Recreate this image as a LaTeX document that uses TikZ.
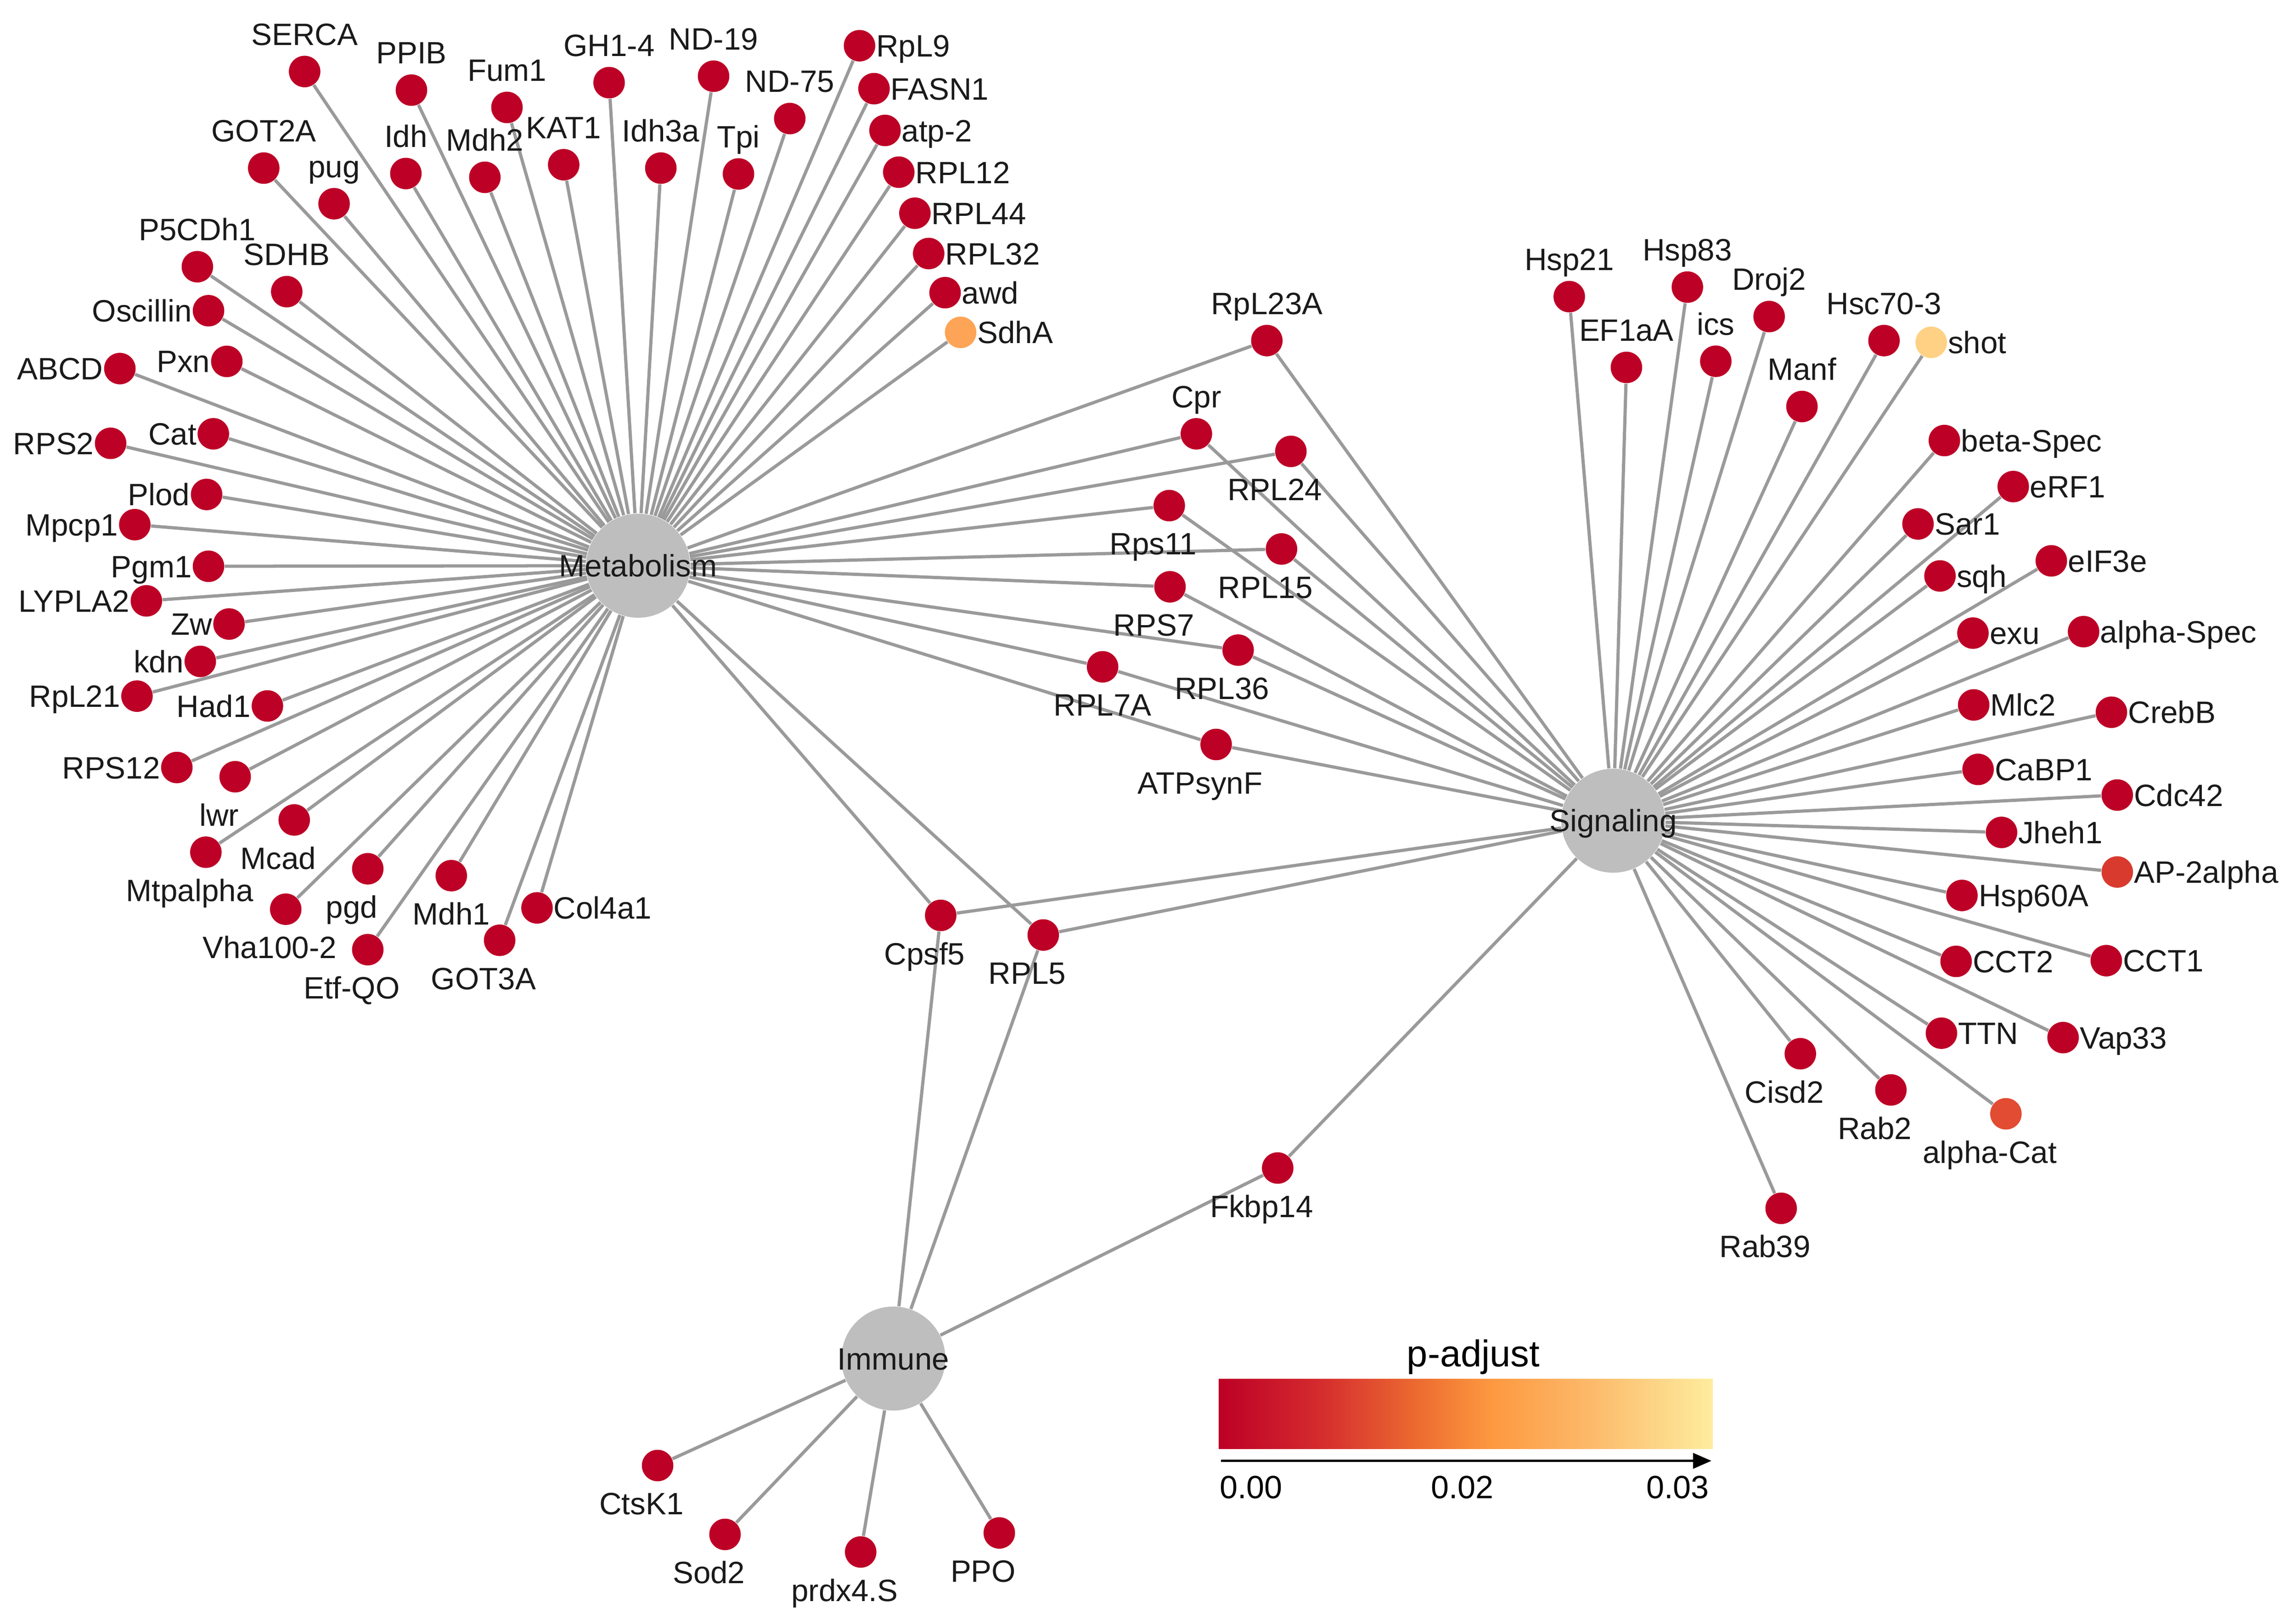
\documentclass[tikz,border=0pt]{standalone}
\usepackage{fontspec}
\setmainfont{Liberation Sans}
\usetikzlibrary{arrows.meta}
\pgfdeclarelayer{bg}
\pgfsetlayers{bg,main}
\definecolor{nred}{HTML}{BD0026}
\definecolor{norange}{HTML}{FDA456}
\definecolor{nyellow}{HTML}{FED184}
\definecolor{nredb}{HTML}{D83B2E}
\definecolor{nredc}{HTML}{E24C32}
\definecolor{hubgray}{HTML}{BEBEBE}
\definecolor{edgegray}{HTML}{9A9A9A}
\definecolor{txt}{HTML}{1A1A1A}
\definecolor{gza}{HTML}{BD0026}
\definecolor{gzb}{HTML}{D42A2E}
\definecolor{gzc}{HTML}{EC6A30}
\definecolor{gzd}{HTML}{FD9840}
\definecolor{gze}{HTML}{FCB96A}
\definecolor{gzf}{HTML}{FEEC9E}
\pgfdeclarehorizontalshading{padj}{100bp}{color(0bp)=(gza); color(25bp)=(gza); color(35bp)=(gzb); color(45bp)=(gzc); color(52.5bp)=(gzd); color(62.5bp)=(gze); color(75bp)=(gzf); color(100bp)=(gzf)}
\tikzset{
  leaf/.style={circle, draw=none, inner sep=0pt, minimum size=0.43cm},
  hub/.style={circle, draw=none, fill=hubgray, inner sep=0pt, minimum size=1.42cm},
  lab/.style={inner sep=0pt, text=txt, font=\fontsize{12pt}{14pt}\selectfont, text height=8.6pt, text depth=0pt},
  edge/.style={draw=edgegray, line width=1.25pt},
}
% label right / left / above / below-left / below-centre
\newcommand\gR[5]{\node[leaf,fill=#4] (#1) at (#2,#3) {}; \node[lab,anchor=west] (#1l) at (#1.east) {#5};}
\newcommand\gL[5]{\node[leaf,fill=#4] (#1) at (#2,#3) {}; \node[lab,anchor=east] (#1l) at (#1.west) {#5};}
\newcommand\gA[5]{\node[leaf,fill=#4] (#1) at (#2,#3) {}; \node[lab] (#1l) at ([yshift=0.51cm]#1.center) {#5};}
\newcommand\gB[5]{\node[leaf,fill=#4] (#1) at (#2,#3) {}; \node[lab] (#1l) at ([xshift=-0.22cm,yshift=-0.52cm]#1.center) {#5};}
\newcommand\gC[5]{\node[leaf,fill=#4] (#1) at (#2,#3) {}; \node[lab] (#1l) at ([yshift=-0.52cm]#1.center) {#5};}
\begin{document}
\begin{tikzpicture}[x=0.02cm, y=-0.02cm]
\useasboundingbox (0,0) rectangle (1567,1104.7);

% hubs
\node[hub] (meta) at (435.5,386) {};
\node[hub] (sig) at (1101,560) {};
\node[hub] (imm) at (609.7,927) {};

% Metabolism leaves
\gA{SERCA}{207.9}{48.8}{nred}{SERCA}
\gA{PPIB}{280.8}{61.5}{nred}{PPIB}
\gA{Fum}{346}{73.3}{nred}{Fum1}
\gA{GH}{415.7}{56.4}{nred}{GH1-4}
\gA{NDa}{487}{52}{nred}{ND-19}
\gR{RpLnine}{586.6}{31.2}{nred}{RpL9}
\gA{NDb}{539}{80.9}{nred}{ND-75}
\gR{FASN}{596.5}{60.5}{nred}{FASN1}
\gR{atp}{604}{89}{nred}{atp-2}
\gR{RPLa}{613.4}{117.5}{nred}{RPL12}
\gR{RPLb}{624.4}{145.5}{nred}{RPL44}
\gR{RPLc}{633.8}{173}{nred}{RPL32}
\gR{awd}{645}{199.7}{nred}{awd}
\gR{SdhA}{655.6}{226.8}{norange}{SdhA}
\gA{GOTa}{180}{114.7}{nred}{GOT2A}
\gA{pug}{228}{139}{nred}{pug}
\gA{Idh}{277}{118.4}{nred}{Idh}
\gA{Mdhb}{330.9}{121}{nred}{Mdh2}
\gA{KAT}{384.7}{112.4}{nred}{KAT1}
\gA{Idhc}{451}{114.7}{nred}{Idh3a}
\gA{Tpi}{504}{118.7}{nred}{Tpi}
\gA{PfC}{134.7}{182}{nred}{P5CDh1}
\gA{SDHB}{195.7}{199}{nred}{SDHB}
\gL{Osc}{142.3}{212}{nred}{Oscillin}
\gL{ABCD}{81.8}{251.5}{nred}{ABCD}
\gL{Pxn}{154.8}{246.6}{nred}{Pxn}
\gL{RPSb}{75.5}{302.5}{nred}{RPS2}
\gL{Cat}{145.6}{296}{nred}{Cat}
\gL{Plod}{141}{337.4}{nred}{Plod}
\gL{Mpcp}{92}{358}{nred}{Mpcp1}
\gL{Pgm}{142.3}{386.4}{nred}{Pgm1}
\gL{LYP}{99.9}{410}{nred}{LYPLA2}
\gL{Zw}{156.3}{425.8}{nred}{Zw}
\gL{kdn}{136.7}{451.3}{nred}{kdn}
\gL{RpLtw}{93.5}{475}{nred}{RpL21}
\gL{Had}{182.5}{481.7}{nred}{Had1}
\gL{RPSc}{120.7}{523.7}{nred}{RPS12}
\gB{lwr}{160.5}{530}{nred}{lwr}
\gB{Mcad}{200.8}{559.5}{nred}{Mcad}
\gB{Mtp}{140.5}{581.5}{nred}{Mtpalpha}
\gB{Vha}{195}{620.4}{nred}{Vha100-2}
\gB{pgd}{251}{592.8}{nred}{pgd}
\gB{Etf}{251}{648}{nred}{Etf-QO}
\gC{Mdha}{308}{597.5}{nred}{Mdh1}
\gB{GOTb}{341}{641.6}{nred}{GOT3A}
\gR{Col}{366.5}{619.5}{nred}{Col4a1}

% shared Metabolism / Signaling
\gA{RpLtt}{864.6}{232.4}{nred}{RpL23A}
\gA{Cpr}{816.5}{296}{nred}{Cpr}
\gB{RPLd}{881}{308}{nred}{RPL24}
\gB{Rpsa}{798}{345}{nred}{Rps11}
\gB{RPLe}{874.6}{374.6}{nred}{RPL15}
\gB{RPSd}{798.5}{400.4}{nred}{RPS7}
\gB{RPLf}{845}{443.6}{nred}{RPL36}
\gC{RPLg}{752.5}{455}{nred}{RPL7A}
\gB{ATP}{830}{508}{nred}{ATPsynF}
\gB{Cpsf}{642}{624.6}{nred}{Cpsf5}
\gB{RPLh}{712}{638}{nred}{RPL5}
\gB{Fkbp}{872}{797}{nred}{Fkbp14}

% Signaling leaves
\gA{Hspa}{1071}{202.4}{nred}{Hsp21}
\gA{EF}{1110}{250.7}{nred}{EF1aA}
\gA{Hspb}{1151.6}{195.9}{nred}{Hsp83}
\gA{ics}{1171}{246.5}{nred}{ics}
\gA{Droj}{1207.4}{216}{nred}{Droj2}
\gA{Manf}{1229.8}{277.4}{nred}{Manf}
\gA{Hsc}{1285.8}{232.4}{nred}{Hsc70-3}
\gR{shot}{1318}{233.6}{nyellow}{shot}
\gR{bSpec}{1327}{300.6}{nred}{beta-Spec}
\gR{eRF}{1374}{332}{nred}{eRF1}
\gR{Sar}{1309}{357.5}{nred}{Sar1}
\gR{sqh}{1324}{393}{nred}{sqh}
\gR{eIF}{1400}{382.7}{nred}{eIF3e}
\gR{exu}{1346.5}{432}{nred}{exu}
\gR{aSpec}{1422}{431}{nred}{alpha-Spec}
\gR{Mlc}{1347}{481}{nred}{Mlc2}
\gR{Creb}{1441}{486}{nred}{CrebB}
\gR{CaBP}{1350}{525}{nred}{CaBP1}
\gR{Cdc}{1445}{542.5}{nred}{Cdc42}
\gR{Jheh}{1366}{568}{nred}{Jheh1}
\gR{AP}{1445}{595}{nredb}{AP-2alpha}
\gR{Hspc}{1339}{611}{nred}{Hsp60A}
\gR{CCTb}{1335}{656}{nred}{CCT2}
\gR{CCTa}{1437.5}{655.5}{nred}{CCT1}
\gR{TTN}{1325}{705}{nred}{TTN}
\gR{Vap}{1408}{708}{nred}{Vap33}
\gB{Cisd}{1228.7}{719}{nred}{Cisd2}
\gB{Rabb}{1290.5}{743.7}{nred}{Rab2}
\gB{aCat}{1369}{760}{nredc}{alpha-Cat}
\gB{Rabc}{1215.6}{824.5}{nred}{Rab39}

% Immune leaves
\gB{Cts}{448.8}{1000}{nred}{CtsK1}
\gB{Sod}{494.8}{1047}{nred}{Sod2}
\gB{prdx}{587.4}{1059}{nred}{prdx4.S}
\gB{PPO}{682}{1046}{nred}{PPO}

% hub labels
\node[lab] (metal) at (meta.center) {Metabolism};
\node[lab] (sigl) at (sig.center) {Signaling};
\node[lab] (imml) at (imm.center) {Immune};

% edges
\begin{pgfonlayer}{bg}
\foreach \n in {SERCA,PPIB,Fum,GH,NDa,RpLnine,NDb,FASN,atp,RPLa,RPLb,RPLc,awd,SdhA,GOTa,pug,Idh,Mdhb,KAT,Idhc,Tpi,PfC,SDHB,Osc,ABCD,Pxn,RPSb,Cat,Plod,Mpcp,Pgm,LYP,Zw,kdn,RpLtw,Had,RPSc,lwr,Mcad,Mtp,Vha,pgd,Etf,Mdha,GOTb,Col,RpLtt,Cpr,RPLd,Rpsa,RPLe,RPSd,RPLf,RPLg,ATP,Cpsf,RPLh}
  \draw[edge] (meta) -- (\n);
\foreach \n in {RpLtt,Cpr,RPLd,Rpsa,RPLe,RPSd,RPLf,RPLg,ATP,Cpsf,RPLh,Fkbp,Hspa,EF,Hspb,ics,Droj,Manf,Hsc,shot,bSpec,eRF,Sar,sqh,eIF,exu,aSpec,Mlc,Creb,CaBP,Cdc,Jheh,AP,Hspc,CCTb,CCTa,TTN,Vap,Cisd,Rabb,aCat,Rabc}
  \draw[edge] (sig) -- (\n);
\foreach \n in {Cpsf,RPLh,Fkbp,Cts,Sod,prdx,PPO}
  \draw[edge] (imm) -- (\n);
\end{pgfonlayer}

% legend
\node[inner sep=0pt, text=black, font=\fontsize{14.5pt}{17pt}\selectfont, anchor=base] (legt) at (1005.5,932.6) {p-adjust};
\node[rectangle, draw=none, inner sep=0pt, minimum width=6.746cm, minimum height=0.95cm, shade, shading=padj] (bar) at (1000.35,964.75) {};
\coordinate (arrS) at (833.4,996.8);
\coordinate (arrE) at (1168,996.8);
\draw[black, line width=0.85pt, -{Triangle[length=0.25cm,width=0.21cm]}] (arrS) -- (arrE);
\tikzset{tick/.style={inner sep=0pt, text=black, font=\fontsize{12.5pt}{15pt}\selectfont, text height=8.95pt, text depth=0pt}}
\node[tick] (ta) at (853.8,1014.7) {0.00};
\node[tick] (tb) at (998,1014.7) {0.02};
\node[tick] (tc) at (1145,1014.7) {0.03};
\end{tikzpicture}
\end{document}
